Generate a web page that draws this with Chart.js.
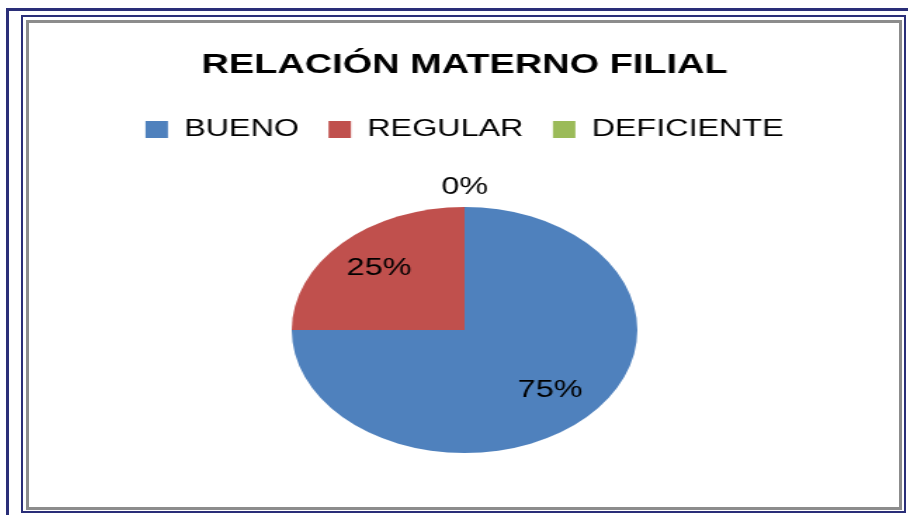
<!DOCTYPE html>
<html>
<head>
<meta charset="utf-8">
<script src="https://cdn.jsdelivr.net/npm/chart.js@4"></script>
<style>
  html, body { margin: 0; padding: 0; background: #fff; width: 908px; height: 515px; overflow: hidden; position: relative; }
  .frame { position: absolute; box-sizing: border-box; }
  #outer { left: 6px; top: 8px; width: 1000px; height: 600px; border-top: 3px solid #2a2e78; border-left: 3px solid #2a2e78; }
  #inner { left: 21px; top: 15px; width: 885px; height: 498px; border: 2px solid #2a2e78; }
  #grey { left: 26px; top: 20px; width: 876px; height: 490px; border: 3px solid #8c8c8c; }
  #wrap { position: absolute; left: 29.4px; top: 23px; width: 620px; height: 490px; transform: scaleX(1.405); transform-origin: 0 0; }
  #c { display: block; width: 620px; height: 490px; }
</style>
</head>
<body>
<div class="frame" id="outer"></div>
<div class="frame" id="inner"></div>
<div class="frame" id="grey"></div>
<div id="wrap"><canvas id="c" width="620" height="490"></canvas></div>
<script>
const chartTitle = 'RELACIÓN MATERNO FILIAL';
const categories = ['BUENO', 'REGULAR', 'DEFICIENTE'];
const values = [75, 25, 0];
const sliceColors = ['#4F81BD', '#C0504D', '#9BBB59'];

const pctLabels = {
  id: 'pctLabels',
  afterDatasetsDraw(chart) {
    const ctx = chart.ctx;
    const meta = chart.getDatasetMeta(0);
    const data = chart.data.datasets[0].data;
    const total = data.reduce((a, b) => a + b, 0);
    ctx.save();
    ctx.font = '23px "Liberation Sans", Arial, sans-serif';
    ctx.fillStyle = '#000';
    ctx.textAlign = 'center';
    ctx.textBaseline = 'middle';
    meta.data.forEach((arc, i) => {
      const p = arc.getProps(['x', 'y', 'startAngle', 'endAngle', 'outerRadius'], true);
      const mid = (p.startAngle + p.endAngle) / 2;
      const f = data[i] === 0 ? 1.16 : 0.70;
      const x = p.x + Math.cos(mid) * p.outerRadius * f;
      const y = p.y + Math.sin(mid) * p.outerRadius * f;
      ctx.fillText(Math.round(data[i] / total * 100) + '%', x, y);
    });
    ctx.restore();
  }
};

new Chart(document.getElementById('c'), {
  type: 'pie',
  data: {
    labels: categories,
    datasets: [{
      data: values,
      backgroundColor: sliceColors,
      borderWidth: 0,
      radius: 123
    }]
  },
  options: {
    responsive: false,
    animation: false,
    events: [],
    layout: { padding: { top: 0, bottom: 4, left: 0, right: 0 } },
    plugins: {
      title: {
        display: true,
        text: chartTitle,
        color: '#000',
        font: { family: '"Liberation Sans", Arial, sans-serif', size: 27, weight: 'bold' },
        padding: { top: 26, bottom: 15.6 }
      },
      legend: {
        display: true,
        position: 'top',
        labels: {
          color: '#000',
          font: { family: '"Liberation Sans", Arial, sans-serif', size: 23 },
          boxWidth: 16,
          boxHeight: 17,
          padding: 21
        }
      },
      tooltip: { enabled: false }
    }
  },
  plugins: [pctLabels]
});
</script>
</body>
</html>
